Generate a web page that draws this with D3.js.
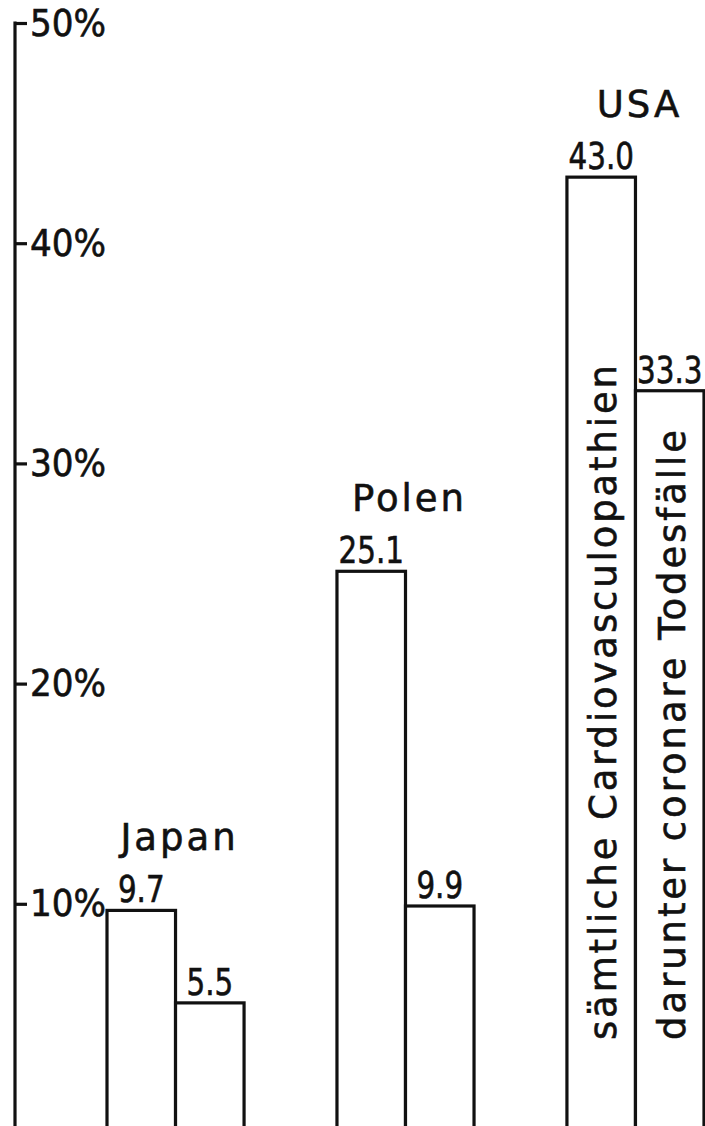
<html>
<head>
    <script src="https://d3js.org/d3.v7.min.js" charset="utf-8"></script>
    <style>
        body { margin: 0; background: #fff; }
        text { stroke: #111; stroke-width: 0.6px; }
    </style>
</head>
<body>
    <script type="text/javascript">
        var width = 705;
        var height = 1126;

        // data
        const countries = ["Japan", "Polen", "USA"];
        const seriesKeys = ["all", "coronary"];
        const allCardio = [9.7, 25.1, 43.0];      // sämtliche Cardiovasculopathien
        const coronary = [5.5, 9.9, 33.3];        // darunter coronare Todesfälle
        const valueLabels = [["9.7", "5.5"], ["25.1", "9.9"], ["43.0", "33.3"]];
        const tickValues = [10, 20, 30, 40, 50];
        const seriesNames = ["sämtliche Cardiovasculopathien", "darunter coronare Todesfälle"];

        const svg = d3.select("body").append("svg")
            .attr("width", width)
            .attr("height", height)
            .style("display", "block");

        const g = svg.append("g")
            .style("font-family", "'DejaVu Sans'");

        const yScale = d3.scaleLinear()
            .domain([0, 50])
            .range([1124, 23]);

        const x0 = d3.scaleBand()
            .domain(countries)
            .range([107, 704])
            .paddingInner(0.404)
            .paddingOuter(0);

        const x1 = d3.scaleBand()
            .domain(seriesKeys)
            .range([0, x0.bandwidth()]);

        // y axis, ticks to the right with hyphen-like marks
        const axis = g.append("g")
            .attr("id", "y-axis")
            .attr("transform", "translate(15,0)")
            .call(d3.axisRight(yScale)
                .tickValues(tickValues)
                .tickFormat(d => d + "%")
                .tickSize(12)
                .tickSizeOuter(0)
                .tickPadding(3));

        axis.select(".domain").remove();
        axis.append("line")
            .attr("x1", 0).attr("x2", 0)
            .attr("y1", yScale(50) - 1.5)
            .attr("y2", height)
            .attr("stroke", "#111")
            .attr("stroke-width", 3.2);
        axis.selectAll(".tick line")
            .attr("stroke", "#111")
            .attr("stroke-width", 3.2);
        axis.selectAll(".tick text")
            .attr("fill", "#111")
            .style("font-family", "'DejaVu Sans Condensed'")
            .style("font-size", "38px");

        // build rows for the bars
        const rows = countries.map((c, i) => ({
            country: c,
            values: [
                { key: "all", value: allCardio[i], label: valueLabels[i][0] },
                { key: "coronary", value: coronary[i], label: valueLabels[i][1] }
            ]
        }));

        const groups = g.selectAll("g.country")
            .data(rows)
            .join("g")
                .attr("class", "country")
                .attr("transform", d => `translate(${x0(d.country)},0)`);

        groups.selectAll("rect")
            .data(d => d.values)
            .join("rect")
                .attr("x", d => x1(d.key))
                .attr("y", d => yScale(d.value))
                .attr("width", x1.bandwidth())
                .attr("height", d => yScale(0) - yScale(d.value) + 12)
                .attr("fill", "#fff")
                .attr("stroke", "#111")
                .attr("stroke-width", 3.2);

        // value labels above each bar (narrow lettering, like the original)
        groups.selectAll("text.value")
            .data(d => d.values)
            .join("text")
                .attr("class", "value")
                .attr("transform", d => `translate(${x1(d.key) + x1.bandwidth() / 2},${yScale(d.value) - 8}) scale(0.86,1)`)
                .attr("text-anchor", "middle")
                .attr("fill", "#111")
                .style("font-family", "'DejaVu Sans Condensed'")
                .style("font-size", "38px")
                .text(d => d.label);

        // country names
        groups.append("text")
            .attr("x", x0.bandwidth() / 2 + 4)
            .attr("y", d => yScale(d3.max(d.values, v => v.value)) - 60)
            .attr("text-anchor", "middle")
            .attr("fill", "#111")
            .style("font-size", "37px")
            .style("letter-spacing", "3px")
            .text(d => d.country);

        // rotated series names inside the USA bars
        const usa = groups.filter(d => d.country === "USA");
        usa.selectAll("text.series")
            .data(seriesKeys.map((k, i) => ({ key: k, name: seriesNames[i] })))
            .join("text")
                .attr("class", "series")
                .attr("transform", d => `translate(${x1(d.key) + x1.bandwidth() / 2 + 2},${yScale(0) - 84}) rotate(-90)`)
                .attr("dy", "0.35em")
                .attr("fill", "#111")
                .style("font-size", "37px")
                .attr("textLength", (d, i) => i === 0 ? 675 : 610)
                .attr("lengthAdjust", "spacing")
                .text(d => d.name);
    </script>
</body>
</html>
